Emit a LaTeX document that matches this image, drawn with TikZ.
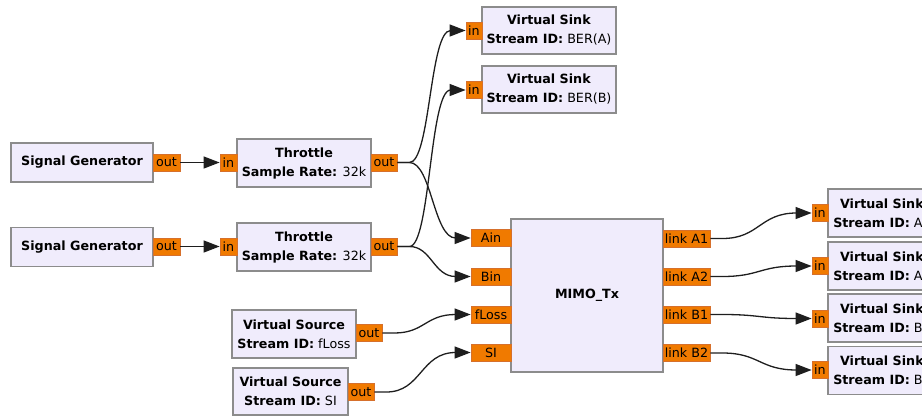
\documentclass[tikz,border=0pt]{standalone}
\usepackage{fontspec}
\setmainfont{DejaVu Sans}
\usetikzlibrary{arrows.meta,calc}

\definecolor{blockfill}{RGB}{240,236,252}
\definecolor{blockline}{RGB}{140,140,140}
\definecolor{portfill}{RGB}{240,122,0}
\definecolor{portline}{RGB}{214,112,44}
\definecolor{wirecol}{RGB}{30,30,30}

% flowgraph connection: short stub, smooth S-curve, arrow into the sink port
\newcommand\grcwire[3]{%
  \draw[wire] (#1.east) -- ++(12,0)
    .. controls +(#3,0) and +(-#3,0) .. ($(#2.west)+(-15,0)$) -- (#2.west);}

\begin{document}
\begin{tikzpicture}[x=1pt,y=-1pt,
  txt/.style={font=\fontsize{12.7}{19}\selectfont},
  block/.style={txt,draw=blockline,fill=blockfill,line width=1.3pt,
    inner sep=0pt,align=center,minimum height=48pt,text=black},
  port/.style={txt,draw=portline,fill=portfill,line width=0.8pt,
    inner sep=0pt,minimum height=17pt,text=black},
  wire/.style={draw=wirecol,line width=1.3pt,
    -{Triangle[length=16pt,width=12pt]}}]
\useasboundingbox (0,0) rectangle (922,418);
\clip (0,0) rectangle (922,418);

% sources and throttles
\node[block,minimum width=142pt,minimum height=39pt] (sg1) at (82,162.5) {\textbf{Signal Generator}};
\node[port,minimum width=27pt] (sg1o) at (166.5,162.5) {out};
\node[block,minimum width=142pt,minimum height=39pt] (sg2) at (82,247) {\textbf{Signal Generator}};
\node[port,minimum width=27pt] (sg2o) at (166.5,246.5) {out};

\node[block,minimum width=134pt] (th1) at (304,163) {\textbf{Throttle}\\\textbf{Sample Rate:} 32k};
\node[port,minimum width=17pt] (th1i) at (228.5,162.5) {in};
\node[port,minimum width=26pt] (th1o) at (384,162.5) {out};
\node[block,minimum width=134pt] (th2) at (304,247) {\textbf{Throttle}\\\textbf{Sample Rate:} 32k};
\node[port,minimum width=17pt] (th2i) at (228.5,246.5) {in};
\node[port,minimum width=26pt] (th2o) at (384,246.5) {out};

% BER sinks
\node[block,minimum width=134pt,minimum height=47pt] (bera) at (549,30.5) {\textbf{Virtual Sink}\\\textbf{Stream ID:} BER(A)};
\node[port,minimum width=16pt] (berai) at (474,30.5) {in};
\node[block,minimum width=134pt,minimum height=47pt] (berb) at (549,89.5) {\textbf{Virtual Sink}\\\textbf{Stream ID:} BER(B)};
\node[port,minimum width=16pt] (berbi) at (474,90) {in};

% virtual sources
\node[block,minimum width=124pt] (vs1) at (294,334) {\textbf{Virtual Source}\\\textbf{Stream ID:} fLoss};
\node[port,minimum width=26pt] (vs1o) at (369,333) {out};
\node[block,minimum width=115pt,minimum height=47pt] (vs2) at (290.5,391.5) {\textbf{Virtual Source}\\\textbf{Stream ID:} SI};
\node[port,minimum width=26pt] (vs2o) at (361,392) {out};

% MIMO transmitter
\node[block,minimum width=152pt,minimum height=153pt] (mimo) at (587,295.5) {\textbf{MIMO\_Tx}};
\node[port,minimum width=40pt] (ain) at (491,238) {Ain};
\node[port,minimum width=40pt] (bin) at (491,276.5) {Bin};
\node[port,minimum width=40pt] (floss) at (491,314.5) {fLoss};
\node[port,minimum width=40pt] (si) at (491,352.5) {SI};
\node[port,minimum width=47pt] (la1) at (686.5,238.5) {link A1};
\node[port,minimum width=47pt] (la2) at (686.5,276.5) {link A2};
\node[port,minimum width=47pt] (lb1) at (686.5,314.5) {link B1};
\node[port,minimum width=47pt] (lb2) at (686.5,353) {link B2};

% link sinks
\node[block,minimum width=108pt] (ska1) at (882,213) {\textbf{Virtual Sink}\\\textbf{Stream ID:} A1};
\node[port,minimum width=16pt] (ska1i) at (820,213) {in};
\node[block,minimum width=108pt] (ska2) at (882,266) {\textbf{Virtual Sink}\\\textbf{Stream ID:} A2};
\node[port,minimum width=16pt] (ska2i) at (820,266) {in};
\node[block,minimum width=108pt] (skb1) at (882,318) {\textbf{Virtual Sink}\\\textbf{Stream ID:} B1};
\node[port,minimum width=16pt] (skb1i) at (820,318.5) {in};
\node[block,minimum width=108pt] (skb2) at (882,370.5) {\textbf{Virtual Sink}\\\textbf{Stream ID:} B2};
\node[port,minimum width=16pt] (skb2i) at (820,370) {in};

% connections
\draw[wire] (sg1o.east) -- (th1i.west);
\draw[wire] (sg2o.east) -- (th2i.west);
\grcwire{th1o}{berai}{21}
\grcwire{th1o}{ain}{22}
\grcwire{th2o}{berbi}{21}
\grcwire{th2o}{bin}{22}
\grcwire{vs1o}{floss}{30}
\grcwire{vs2o}{si}{35}
\grcwire{la1}{ska1i}{37}
\grcwire{la2}{ska2i}{37}
\grcwire{lb1}{skb1i}{37}
\grcwire{lb2}{skb2i}{37}
\end{tikzpicture}
\end{document}
